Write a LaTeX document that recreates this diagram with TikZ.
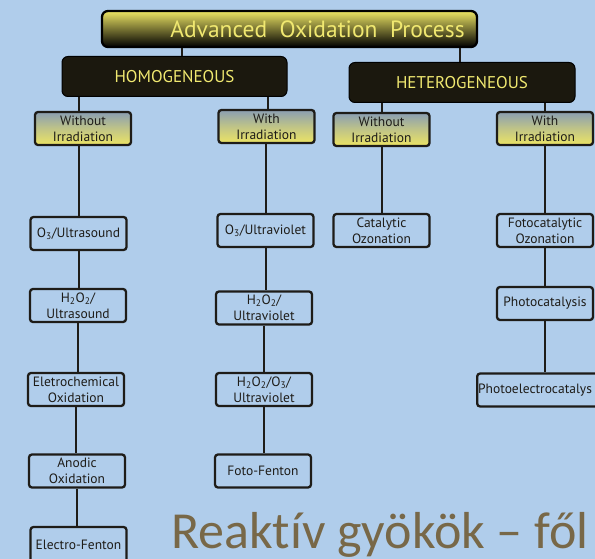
\documentclass[tikz,border=0pt]{standalone}
\usepackage{fontspec}
\setmainfont{PT Sans}
\newfontfamily\slidefont[Ligatures=NoCommon]{Carlito}
\definecolor{slidebg}{RGB}{176,205,235}
\definecolor{aopyellow}{RGB}{236,228,100}
\definecolor{aoptext}{RGB}{240,232,112}
\definecolor{aopdark}{RGB}{27,24,14}
\definecolor{irrblue}{RGB}{138,158,178}
\definecolor{inkdark}{RGB}{30,28,24}
\definecolor{slidebrown}{RGB}{120,104,72}

\tikzset{
	link/.style={draw=inkdark, line width=2pt},
	methodbox/.style={draw=inkdark, line width=2.3pt, rounded corners=3pt, fill=slidebg,
		minimum width=96pt, minimum height=33pt, align=center, inner sep=1pt,
		text=inkdark, font=\fontsize{13.5}{16}\selectfont},
	irrbox/.style={methodbox, top color=irrblue, bottom color=aopyellow, middle color=aopyellow!55!irrblue},
	classbox/.style={draw=black, line width=1pt, rounded corners=6pt, fill=aopdark,
		minimum height=40pt, text=aoptext, font=\fontsize{17}{20}\selectfont},
}

\begin{document}
\begin{tikzpicture}[x=1pt,y=-1pt]
	\useasboundingbox (0,0) rectangle (595,559);
	\clip (0,0) rectangle (595,559);
	\fill[slidebg] (0,0) rectangle (595,559);

	% top levels
	\node[draw=black, line width=2.3pt, rounded corners=6pt, minimum width=375pt, minimum height=36pt,
		top color=aopyellow, middle color=aopyellow!88!black, bottom color=black,
		text=aoptext, font=\fontsize{23.5}{26}\selectfont] (aop) at (289.5,29) {\hspace*{56pt}Advanced\ \ Oxidation\ \ Process};
	\node[classbox, minimum width=225pt] (homo) at (174.5,76.5) {HOMOGENEOUS};
	\node[classbox, minimum width=226pt] (hetero) at (462,82.5) {HETEROGENEOUS};

	\node[irrbox] (homowo) at (83,128.5) {Without\\Irradiation};
	\node[irrbox] (homowi) at (266.5,126.5) {With\\Irradiation};
	\node[irrbox] (heterowo) at (381.5,129.5) {Without\\Irradiation};
	\node[irrbox] (heterowi) at (545,128.5) {With\\Irradiation};

	% homogeneous, without irradiation
	\node[methodbox] (ozus) at (78.5,233.5) {O\textsubscript{3}/Ultrasound};
	\node[methodbox] (hpus) at (78,305.5) {H\textsubscript{2}O\textsubscript{2}/\\Ultrasound};
	\node[methodbox] (elox) at (76,389.5) {Eletrochemical\\Oxidation};
	\node[methodbox] (anox) at (77,471) {Anodic\\Oxidation};
	\node[methodbox, minimum height=36pt] (elfe) at (78.5,545) {Electro-Fenton};

	% homogeneous, with irradiation
	\node[methodbox] (ozuv) at (265.5,230.5) {O\textsubscript{3}/Ultraviolet};
	\node[methodbox] (hpuv) at (264,308) {H\textsubscript{2}O\textsubscript{2}/\\Ultraviolet};
	\node[methodbox] (hpozuv) at (264,389.5) {H\textsubscript{2}O\textsubscript{2}/O\textsubscript{3}/\\Ultraviolet};
	\node[methodbox] (fofe) at (263,471) {Foto-Fenton};

	% heterogeneous
	\node[methodbox] (catoz) at (381.5,230.5) {Catalytic\\Ozonation};
	\node[methodbox] (fotoz) at (545,230.5) {Fotocatalytic\\Ozonation};
	\node[methodbox] (phcat) at (545,303.5) {Photocatalysis};
	\node[methodbox, minimum width=150pt, align=left, text width=148pt, inner xsep=0.5pt, anchor=west] (phelcat) at (476,390) {Photoelectrocatalys};

	% connectors
	\draw[link] (aop.south -| 182,0) -- (homo.north -| 182,0);
	\draw[link] (aop.south -| 460,0) -- (hetero.north -| 460,0);
	\draw[link] (homo.south -| 79,0) -- (homowo.north -| 79,0);
	\draw[link] (homo.south -| 268,0) -- (homowi.north -| 268,0);
	\draw[link] (hetero.south -| heterowo) -- (heterowo.north);
	\draw[link] (hetero.south -| heterowi) -- (heterowi.north);

	\draw[link] (homowo.south -| ozus) -- (ozus.north);
	\draw[link] (ozus.south) -- (hpus.north -| ozus);
	\draw[link] (hpus.south) -- (elox.north -| hpus);
	\draw[link] (elox.south) -- (anox.north -| elox);
	\draw[link] (anox.south) -- (elfe.north -| anox);

	\draw[link] (homowi.south -| ozuv) -- (ozuv.north);
	\draw[link] (ozuv.south) -- (hpuv.north -| ozuv);
	\draw[link] (hpuv.south) -- (hpozuv.north);
	\draw[link] (hpozuv.south) -- (fofe.north -| hpozuv);

	\draw[link] (heterowo.south) -- (catoz.north -| heterowo);
	\draw[link] (heterowi.south) -- (fotoz.north);
	\draw[link] (fotoz.south) -- (phcat.north);
	\draw[link] (phcat.south) -- (phelcat.north -| phcat);

	\node[anchor=base west, inner sep=0pt, text=slidebrown, font=\slidefont\fontsize{52}{56}\selectfont] (slidetitle) at (171,548) {Reaktív gyökök – fől};
\end{tikzpicture}
\end{document}
